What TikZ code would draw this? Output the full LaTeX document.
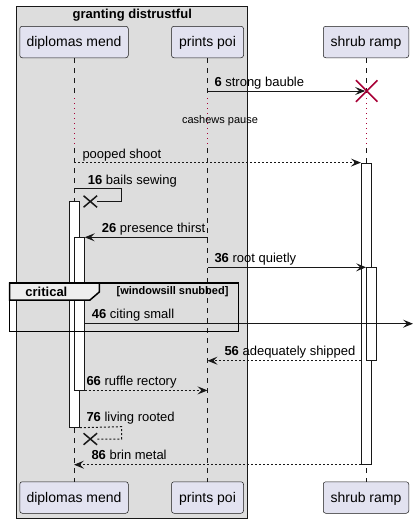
\documentclass[tikz,border=0pt]{standalone}
\usepackage{fontspec}
\setmainfont{Liberation Sans}
\usetikzlibrary{positioning,
        shapes.misc,
        arrows.meta}
\usepackage{xcolor}
\definecolor{linecol}{HTML}{181818}
\definecolor{partfill}{HTML}{E2E2F0}
\definecolor{boxfill}{HTML}{DDDDDD}
\definecolor{tabfill}{HTML}{EEEEEE}
\definecolor{crimson}{HTML}{A80036}

\begin{document}
\begin{tikzpicture}[x=1pt,y=-1pt,
        participant/.style={draw=linecol,fill=partfill,line width=0.5pt,rounded corners=2.5pt,
                minimum height=31.5pt,inner sep=0pt,text height=9.5pt,text depth=0pt,
                font=\fontsize{14}{16}\selectfont},
        lifeline/.style={draw=linecol,line width=0.5pt,dash pattern=on 5pt off 5pt},
        delayline/.style={draw=crimson,line width=1pt,dash pattern=on 1.2pt off 3.8pt},
        actbar/.style={draw=linecol,fill=white,line width=0.8pt,minimum width=10pt,inner sep=0pt},
        msg/.style={draw=linecol,line width=1pt,-{Stealth[length=10pt,width=8pt,inset=4pt]}},
        reply/.style={msg,dash pattern=on 2pt off 2pt},
        msglabel/.style={anchor=base west,inner sep=0pt,font=\fontsize{13}{15}\selectfont},
        lost/.style={cross out,draw=linecol,line width=1.5pt,minimum width=12pt,minimum height=10pt,inner sep=0pt},
        destroy/.style={cross out,draw=crimson,line width=1.5pt,minimum size=20pt,inner sep=0pt},
        frame/.style={draw=black,line width=1.5pt}]
        \useasboundingbox (0,0) rectangle (414,523);

        \draw [draw=linecol,line width=0.5pt,fill=boxfill] (16,6) rectangle (247,518);
        \node [anchor=base,inner sep=0pt,font=\bfseries\fontsize{13}{15}\selectfont] (boxtitle) at (132.3,18.3) {granting distrustful};

        \node [participant,minimum width=108.5pt] (dm-top) at (74,42) {diplomas mend};
        \node [participant,minimum width=72pt] (pp-top) at (207.5,42) {prints poi};
        \node [participant,minimum width=85.5pt] (sh-top) at (366,42) {shrub ramp};
        \node [participant,minimum width=108.5pt] (dm-bot) at (74,497.5) {diplomas mend};
        \node [participant,minimum width=72pt] (pp-bot) at (207.5,497.5) {prints poi};
        \node [participant,minimum width=85.5pt] (sh-bot) at (366,497.5) {shrub ramp};

        \foreach \p in {dm,pp,sh} {
                \draw [lifeline] (\p-top.south) -- (\p-top.south |- 0,98);
                \draw [delayline] (\p-top.south |- 0,98) -- (\p-top.south |- 0,148);
                \draw [lifeline] (\p-top.south |- 0,148) -- (\p-bot.north);
        }

        \node [actbar,minimum height=225.6pt] (dm-act1) at (74.5,314.5) {};
        \node [actbar,minimum height=152.3pt] (dm-act2) at (79.3,313.85) {};
        \node [actbar,minimum height=301.3pt] (sh-act1) at (366.3,313.65) {};
        \node [actbar,minimum height=92.6pt] (sh-act2) at (371.5,314) {};

        \node [destroy] (sh-x) at (366.7,91) {};
        \draw [msg,shorten >=1.5pt] (pp-top.south |- sh-x) -- (sh-x.center);
        \node [msglabel] (l6) at (214.3,86.3) {\textbf{6} strong bauble};

        \node [inner sep=0pt,font=\fontsize{11}{13}\selectfont] (delay) at (220,121) {cashews pause};

        \draw [reply] (dm-top.south |- sh-act1.north) -- (sh-act1.north west);
        \node [msglabel] (l11) at (82.3,158) {pooped shoot};

        \node [lost] (x16) at (90.3,201.5) {};
        \draw [draw=linecol,line width=1pt] (dm-top.south |- 0,188.5) -- (121.5,188.5) -- (121.5,201.5) -- (x16.east);
        \node [msglabel] (l16) at (87.7,184) {\textbf{16} bails sewing};

        \draw [msg] (pp-top.south |- dm-act2.north) -- (dm-act2.north east);
        \node [msglabel] (l26) at (101.7,232.5) {\textbf{26} presence thirst};

        \draw [msg] (pp-top.south |- sh-act2.north) -- (sh-act2.north west);
        \node [msglabel] (l36) at (214.3,262.7) {\textbf{36} root quietly};

        \coordinate (out46) at (413,323.7);
        \draw [msg] (dm-act2.east |- out46) -- (out46);
        \node [msglabel] (l46) at (91.7,318.7) {\textbf{46} citing small};

        \draw [reply] (sh-act1.west |- sh-act2.south) -- (pp-top.south |- sh-act2.south);
        \node [msglabel] (l56) at (224.3,355.5) {\textbf{56} adequately shipped};

        \draw [reply] (dm-act2.south east) -- (pp-top.south |- dm-act2.south);
        \node [msglabel] (l66) at (86.3,385) {\textbf{66} ruffle rectory};

        \node [lost] (x76) at (90.3,439) {};
        \draw [draw=linecol,line width=1pt,dash pattern=on 2pt off 2pt] (dm-act1.south east) -- (121.5,426.7) -- (121.5,439) -- (x76.east);
        \node [msglabel] (l76) at (86.3,421.7) {\textbf{76} living rooted};

        \draw [reply] (sh-act1.south west) -- (dm-top.south |- sh-act1.south);
        \node [msglabel] (l86) at (91.3,459.3) {\textbf{86} brin metal};

        \draw [frame] (9.7,283) rectangle (238.7,331.7);
        \draw [frame,fill=tabfill] (9.7,283) -- (99.3,283) -- (99.3,292) -- (90,300) -- (9.7,300) -- cycle;
        \node [anchor=base,inner sep=0pt,font=\bfseries\fontsize{13}{15}\selectfont] (crit) at (46.4,296) {critical};
        \node [anchor=base,inner sep=0pt,font=\bfseries\fontsize{11}{13}\selectfont] (guard) at (172.5,294.5) {[windowsill snubbed]};
\end{tikzpicture}
\end{document}
